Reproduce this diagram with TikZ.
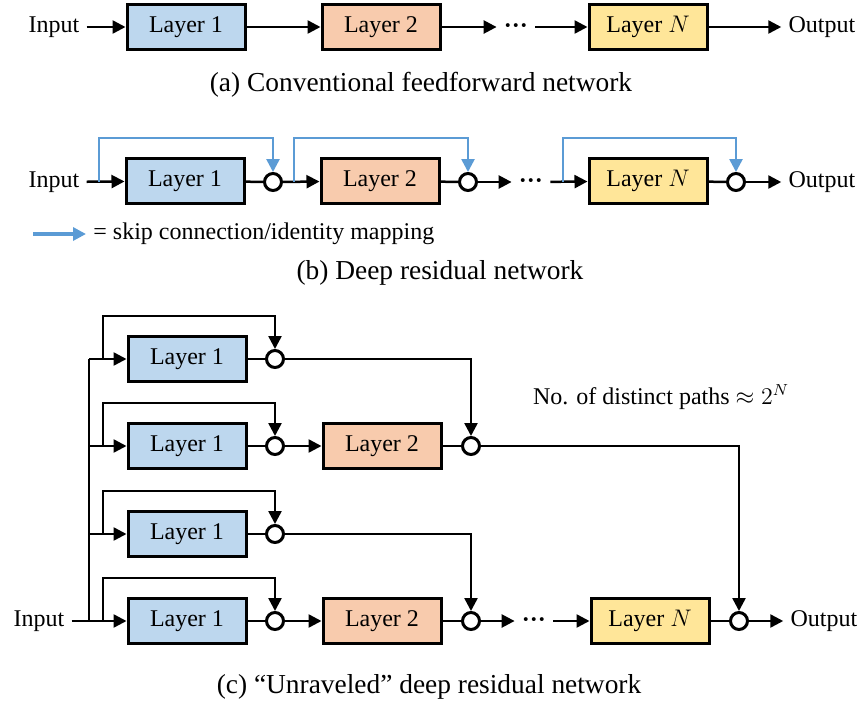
\documentclass[tikz,border=0pt]{standalone}
\usepackage{fontspec}
\setmainfont{Liberation Serif}
\usetikzlibrary{arrows.meta}

\definecolor{layerone}{HTML}{BDD7EE}
\definecolor{layertwo}{HTML}{F8CBAD}
\definecolor{layerlast}{HTML}{FFE699}
\definecolor{skipblue}{HTML}{5B9BD5}

\begin{document}
\begin{tikzpicture}[x=0.5pt,y=-0.5pt,
	layer/.style={draw, line width=1.5pt, minimum width=59pt, minimum height=22.5pt, inner sep=0pt, font=\fontsize{12}{14}\selectfont},
	lbl/.style={inner sep=3.5pt, font=\fontsize{12}{14}\selectfont},
	dotsbox/.style={lbl, text height=6pt, text depth=0pt},
	caption/.style={inner sep=0pt, font=\fontsize{13.7}{16}\selectfont},
	sum/.style={draw, circle, line width=1.5pt, fill=white, minimum size=8.5pt, inner sep=0pt},
	conn/.style={line width=1.25pt},
	arr/.style={conn, -{Triangle[length=6.5pt,width=6.5pt]}},
	skip/.style={line width=1.3pt, skipblue, -{Triangle[length=6.5pt,width=6.5pt]}}]
	\useasboundingbox (0,0) rectangle (864,703);

	% (a) conventional
	\draw (54,27) node[lbl](in_a) {Input};
	\draw (186,27) node[layer, fill=layerone](l1a) {Layer 1};
	\draw (381,27) node[layer, fill=layertwo](l2a) {Layer 2};
	\draw (516,27) node[dotsbox](dots_a) {\textbf{···}};
	\draw (648,27) node[layer, fill=layerlast](lNa) {Layer $N$};
	\draw (822,27) node[lbl](out_a) {Output};
	\draw[arr] (in_a) -- (l1a);
	\draw[arr] (l1a) -- (l2a);
	\draw[arr] (l2a) -- (dots_a);
	\draw[arr] (dots_a) -- (lNa);
	\draw[arr] (lNa) -- (out_a);
	\draw (421,85) node[caption](cap_a) {(a) Conventional feedforward network};

	% (b) residual
	\draw (54,182) node[lbl](in_b) {Input};
	\draw (185,181) node[layer, fill=layerone](l1b) {Layer 1};
	\draw (273,182) node[sum](c1b) {};
	\draw (380,181) node[layer, fill=layertwo](l2b) {Layer 2};
	\draw (468,182) node[sum](c2b) {};
	\draw (531,182) node[dotsbox](dots_b) {\textbf{···}};
	\draw (648,181) node[layer, fill=layerlast](lNb) {Layer $N$};
	\draw (736,182) node[sum](c3b) {};
	\draw (822,182) node[lbl](out_b) {Output};
	\coordinate (s1b) at (99,182);
	\coordinate (s2b) at (294,182);
	\coordinate (s3b) at (563,182);
	\draw[arr] (in_b) -- (l1b);
	\draw[conn] (l1b) -- (c1b);
	\draw[arr] (c1b) -- (l2b);
	\draw[conn] (l2b) -- (c2b);
	\draw[arr] (c2b) -- (dots_b);
	\draw[arr] (dots_b) -- (lNb);
	\draw[conn] (lNb) -- (c3b);
	\draw[arr] (c3b) -- (out_b);
	\draw[skip] (s1b) -- ++(0,-44) -| (c1b.north);
	\draw[skip] (s2b) -- ++(0,-44) -| (c2b.north);
	\draw[skip] (s3b) -- ++(0,-44) -| (c3b.north);
	\coordinate (legtail) at (33,234);
	\draw (86,234) node[lbl, anchor=west](leg) {= skip connection/identity mapping};
	\draw[skip, line width=1.6pt] (legtail) -- (leg.west);
	\draw (440,273) node[caption](cap_b) {(b) Deep residual network};

	% (c) unraveled
	\draw (39,621) node[lbl](in_c) {Input};
	\draw (187,359) node[layer, fill=layerone](l1c1) {Layer 1};
	\draw (187,446) node[layer, fill=layerone](l1c2) {Layer 1};
	\draw (187,534) node[layer, fill=layerone](l1c3) {Layer 1};
	\draw (187,621) node[layer, fill=layerone](l1c4) {Layer 1};
	\draw (275,359) node[sum](c1c1) {};
	\draw (275,446) node[sum](c1c2) {};
	\draw (275,534) node[sum](c1c3) {};
	\draw (275,621) node[sum](c1c4) {};
	\draw (382,446) node[layer, fill=layertwo](l2c2) {Layer 2};
	\draw (382,621) node[layer, fill=layertwo](l2c4) {Layer 2};
	\draw (471,446) node[sum](c2c2) {};
	\draw (471,621) node[sum](c2c4) {};
	\draw (534,621) node[dotsbox](dots_c) {\textbf{···}};
	\draw (650,621) node[layer, fill=layerlast](lNc) {Layer $N$};
	\draw (739,621) node[sum](cNc) {};
	\draw (824,621) node[lbl](out_c) {Output};
	\draw (661,397) node[lbl](paths) {No. of distinct paths $\approx 2^{N}$};
	\coordinate (t1) at (89,359);
	\coordinate (t2) at (89,446);
	\coordinate (t3) at (89,534);
	\coordinate (t4) at (89,621);
	\coordinate (k1) at (103,359);
	\coordinate (k2) at (103,446);
	\coordinate (k3) at (103,534);
	\coordinate (k4) at (103,621);
	\draw[conn] (t4) -- (t1);
	\draw[arr] (t1) -- (l1c1);
	\draw[arr] (t2) -- (l1c2);
	\draw[arr] (t3) -- (l1c3);
	\draw[arr] (in_c) -- (l1c4);
	\draw[arr] (k1) -- ++(0,-43) -| (c1c1.north);
	\draw[arr] (k2) -- ++(0,-43) -| (c1c2.north);
	\draw[arr] (k3) -- ++(0,-43) -| (c1c3.north);
	\draw[arr] (k4) -- ++(0,-43) -| (c1c4.north);
	\draw[conn] (l1c1) -- (c1c1);
	\draw[conn] (l1c2) -- (c1c2);
	\draw[conn] (l1c3) -- (c1c3);
	\draw[conn] (l1c4) -- (c1c4);
	\draw[arr] (c1c2) -- (l2c2);
	\draw[arr] (c1c4) -- (l2c4);
	\draw[conn] (l2c2) -- (c2c2);
	\draw[conn] (l2c4) -- (c2c4);
	\draw[arr] (c1c1) -| (c2c2.north);
	\draw[arr] (c1c3) -| (c2c4.north);
	\draw[arr] (c2c2) -| (cNc.north);
	\draw[arr] (c2c4) -- (dots_c);
	\draw[arr] (dots_c) -- (lNc);
	\draw[conn] (lNc) -- (cNc);
	\draw[arr] (cNc) -- (out_c);
	\draw (429,687) node[caption](cap_c) {(c) “Unraveled” deep residual network};
\end{tikzpicture}
\end{document}
